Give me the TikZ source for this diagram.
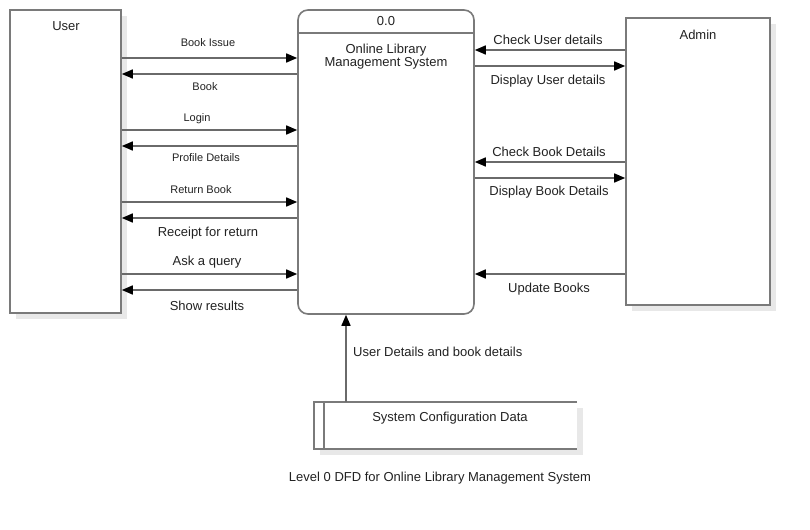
\documentclass[tikz,border=0pt]{standalone}
\usepackage{fontspec}
\setmainfont{Liberation Sans}
\usetikzlibrary{arrows.meta}
\definecolor{boxgray}{HTML}{7A7A7A}
\definecolor{linegray}{HTML}{6A6A6A}
\definecolor{shadowgray}{HTML}{E8E8E8}
\definecolor{txt}{HTML}{222222}
\begin{document}
\begin{tikzpicture}[x=1bp,y=-1bp,
  box/.style={draw=boxgray, line width=1.6bp, fill=white, inner sep=0pt},
  flow/.style={draw=linegray, line width=1.5bp, -{Triangle[length=11bp,width=9bp,color=black]}},
  lbl/.style={font=\fontsize{13bp}{15bp}\selectfont, inner sep=0pt, text=txt, yshift=-1.5bp},
  slbl/.style={font=\fontsize{11bp}{13bp}\selectfont, inner sep=0pt, text=txt, yshift=-1bp}]
\useasboundingbox[fill=white] (0,0) rectangle (810,530);

% shadows
\fill[shadowgray] (16,16) rectangle (127,319);
\fill[shadowgray] (632,24) rectangle (776,311);
\fill[shadowgray] (320,408) rectangle (583,455);

% entities
\node[box, minimum width=111bp, minimum height=303bp] (user) at (65.5,161.5) {};
\node[lbl] (usert) at (66,25) {User};
\node[box, minimum width=144bp, minimum height=287bp] (admin) at (698,161.5) {};
\node[lbl] (admint) at (698,33) {Admin};

% process
\node[box, rounded corners=10bp, minimum width=176bp, minimum height=304bp] (proc) at (386,162) {};
\draw[boxgray, line width=1.6bp] (proc.west |- 0,33) -- (proc.east |- 0,33);
\node[lbl] (pnum) at (386,20) {0.0};
\node[lbl, align=center, font=\fontsize{13bp}{13bp}\selectfont] (pname) at (386,55) {Online Library\\Management System};

% data store
\node[inner sep=0pt, minimum width=263bp, minimum height=47bp] (store) at (445.5,425.5) {};
\fill[white] (store.north west) rectangle (store.south east);
\draw[boxgray, line width=1.6bp] (store.north east) -- (store.north west) -- (store.south west) -- (store.south east);
\draw[boxgray, line width=1.6bp] (324,0 |- store.north) -- (324,0 |- store.south);
\node[lbl] (storet) at (450,417) {System Configuration Data};

% user flows
\draw[flow] (user.east |- 0,58) -- (proc.west |- 0,58);
\node[slbl] (l1) at (208,42) {Book Issue};
\draw[flow] (proc.west |- 0,74) -- (user.east |- 0,74);
\node[slbl] (l2) at (205,86) {Book};
\draw[flow] (user.east |- 0,130) -- (proc.west |- 0,130);
\node[slbl] (l3) at (197,118) {Login};
\draw[flow] (proc.west |- 0,146) -- (user.east |- 0,146);
\node[slbl] (l4) at (206,157) {Profile Details};
\draw[flow] (user.east |- 0,202) -- (proc.west |- 0,202);
\node[slbl] (l5) at (201,189) {Return Book};
\draw[flow] (proc.west |- 0,218) -- (user.east |- 0,218);
\node[lbl] (l6) at (208,232) {Receipt for return};
\draw[flow] (user.east |- 0,274) -- (proc.west |- 0,274);
\node[lbl] (l7) at (207,261) {Ask a query};
\draw[flow] (proc.west |- 0,290) -- (user.east |- 0,290);
\node[lbl] (l8) at (207,304) {Show results};

% admin flows
\draw[flow] (admin.west |- 0,50) -- (proc.east |- 0,50);
\node[lbl] (a1) at (548,38) {Check User details};
\draw[flow] (proc.east |- 0,66) -- (admin.west |- 0,66);
\node[lbl] (a2) at (548,80) {Display User details};
\draw[flow] (admin.west |- 0,162) -- (proc.east |- 0,162);
\node[lbl] (a3) at (549,150) {Check Book Details};
\draw[flow] (proc.east |- 0,178) -- (admin.west |- 0,178);
\node[lbl] (a4) at (549,191) {Display Book Details};
\draw[flow] (admin.west |- 0,274) -- (proc.east |- 0,274);
\node[lbl] (a5) at (549,288) {Update Books};

% store flow
\draw[flow] (346,0 |- store.north) -- (346,0 |- proc.south);
\node[lbl, anchor=west] (sl) at (353,350) {User Details and book details};

% caption
\node[font=\fontsize{13bp}{15bp}\selectfont, inner sep=0pt, text=txt, yshift=-1bp] (cap) at (440,477) {Level 0 DFD for Online Library Management System};
\end{tikzpicture}
\end{document}
